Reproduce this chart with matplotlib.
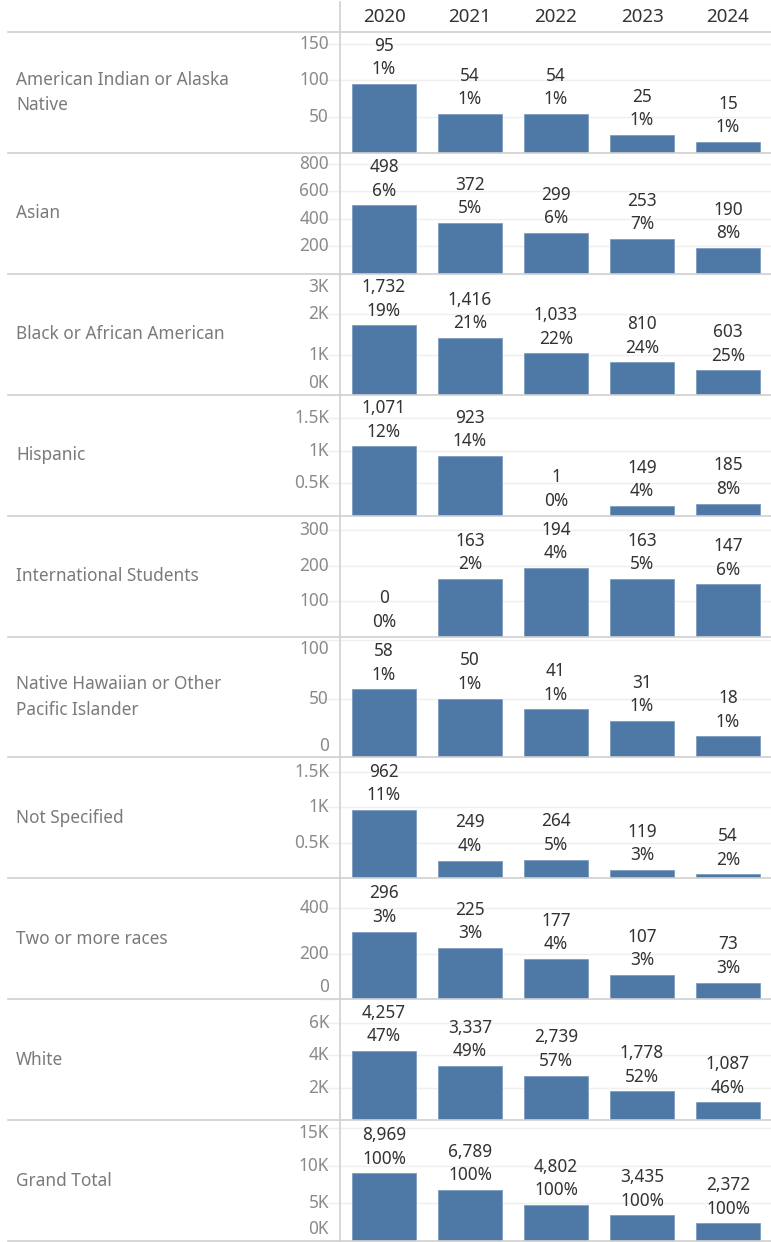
import matplotlib
matplotlib.use("Agg")
import matplotlib.pyplot as plt
from matplotlib import transforms
from matplotlib.lines import Line2D

plt.rcParams['font.family'] = ['Noto Sans', 'DejaVu Sans']

years = ["2020", "2021", "2022", "2023", "2024"]
categories = [
    "American Indian or Alaska\nNative",
    "Asian",
    "Black or African American",
    "Hispanic",
    "International Students",
    "Native Hawaiian or Other\nPacific Islander",
    "Not Specified",
    "Two or more races",
    "White",
    "Grand Total",
]
aian = [95, 54, 54, 25, 15]
aian_pct = [1, 1, 1, 1, 1]
asian = [498, 372, 299, 253, 190]
asian_pct = [6, 5, 6, 7, 8]
black = [1732, 1416, 1033, 810, 603]
black_pct = [19, 21, 22, 24, 25]
hispanic = [1071, 923, 1, 149, 185]
hispanic_pct = [12, 14, 0, 4, 8]
intl = [0, 163, 194, 163, 147]
intl_pct = [0, 2, 4, 5, 6]
nhpi = [58, 50, 41, 31, 18]
nhpi_pct = [1, 1, 1, 1, 1]
notspec = [962, 249, 264, 119, 54]
notspec_pct = [11, 4, 5, 3, 2]
two_more = [296, 225, 177, 107, 73]
two_more_pct = [3, 3, 4, 3, 3]
white = [4257, 3337, 2739, 1778, 1087]
white_pct = [47, 49, 57, 52, 46]
grand = [8969, 6789, 4802, 3435, 2372]
grand_pct = [100, 100, 100, 100, 100]

values = [aian, asian, black, hispanic, intl, nhpi, notspec, two_more, white, grand]
pcts = [aian_pct, asian_pct, black_pct, hispanic_pct, intl_pct, nhpi_pct,
        notspec_pct, two_more_pct, white_pct, grand_pct]

ymaxes = [165, 873, 2985, 1850, 338, 102, 1690, 525, 7380, 15900]
yticks = [[50, 100, 150], [200, 400, 600, 800], [0, 1000, 2000, 3000],
          [500, 1000, 1500], [100, 200, 300], [0, 50, 100],
          [500, 1000, 1500], [0, 200, 400], [2000, 4000, 6000],
          [0, 5000, 10000, 15000]]
ytick_labels = [["50", "100", "150"], ["200", "400", "600", "800"],
                ["0K", "1K", "2K", "3K"], ["0.5K", "1K", "1.5K"],
                ["100", "200", "300"], ["0", "50", "100"],
                ["0.5K", "1K", "1.5K"], ["0", "200", "400"],
                ["2K", "4K", "6K"], ["0K", "5K", "10K", "15K"]]

W, H = 771, 1242
fig = plt.figure(figsize=(W / 100, H / 100), dpi=100)
fig.patch.set_facecolor("white")

bar_color = "#4e79a7"
text_dark = "#333333"
label_gray = "#7a7a7a"
tick_gray = "#8a8a8a"
sep_color = "#d0d0d0"
fs = 12.4

header_bottom = 32
row_h = 120.9
ax_left = 341
ax_right = 771

def fy(py):
    return 1 - py / H

def fx(px):
    return px / W

for r in range(10):
    top = header_bottom + r * row_h
    bottom = top + row_h
    ax = fig.add_axes([fx(ax_left), fy(bottom), fx(ax_right - ax_left), (bottom - top - 1) / H])
    ax.set_xlim(-0.5, 4.5)
    ax.set_ylim(0, ymaxes[r])
    for s in ax.spines.values():
        s.set_visible(False)
    ax.set_xticks([])
    ax.set_yticks([])
    for t in yticks[r]:
        ax.axhline(t, color="#efefef", lw=1, zorder=0)
    ax.bar(range(5), values[r], width=0.755, color=bar_color,
           edgecolor="#7f9cc0", linewidth=0.6, zorder=2)
    for i, (v, p) in enumerate(zip(values[r], pcts[r])):
        ax.annotate(f"{v:,}\n{p}%", xy=(i, v), xytext=(0, 4),
                    textcoords="offset points", ha="center", va="bottom",
                    fontsize=fs, color=text_dark, linespacing=1.4,
                    annotation_clip=False)
    # tick labels
    trans = transforms.blended_transform_factory(ax.transAxes, ax.transData)
    ph = bottom - top
    for t, lab in zip(yticks[r], ytick_labels[r]):
        pix_from_top = (1 - t / ymaxes[r]) * ph
        pix_from_bot = t / ymaxes[r] * ph
        if pix_from_top < 10:
            ax.annotate(lab, xy=(-12 / 430, ymaxes[r]), xycoords=trans,
                        xytext=(0, -2), textcoords="offset points",
                        ha="right", va="top", fontsize=fs, color=tick_gray,
                        annotation_clip=False)
        elif pix_from_bot < 10:
            ax.annotate(lab, xy=(-12 / 430, 0), xycoords=trans,
                        xytext=(0, 2), textcoords="offset points",
                        ha="right", va="bottom", fontsize=fs, color=tick_gray,
                        annotation_clip=False)
        else:
            ax.text(-12 / 430, t, lab, transform=trans, ha="right",
                    va="center", fontsize=fs, color=tick_gray)
    for t in yticks[r]:
        ax.plot([-22 / 430, 0], [t, t], transform=trans, color="#efefef",
                lw=1, clip_on=False, zorder=0)
    # row label
    fig.text(fx(16), fy((top + bottom) / 2), categories[r], ha="left",
             va="center", fontsize=fs, color=label_gray, linespacing=1.55)
    # separator
    fig.add_artist(Line2D([fx(8), 1], [fy(bottom), fy(bottom)],
                          color=sep_color, lw=1.2))

# header line
fig.add_artist(Line2D([fx(8), 1], [fy(header_bottom), fy(header_bottom)],
                      color=sep_color, lw=1.2))
# vertical divider
fig.add_artist(Line2D([fx(340), fx(340)], [fy(2), fy(H - 1)],
                      color=sep_color, lw=1.2))

# year headers
for i, y in enumerate(years):
    cx = ax_left + (i + 0.5) * (ax_right - ax_left) / 5
    fig.text(fx(cx), fy(17), y, ha="center", va="center", fontsize=13.5,
             fontweight="bold", color=text_dark)

fig.savefig("out.png", dpi=100, facecolor="white")
